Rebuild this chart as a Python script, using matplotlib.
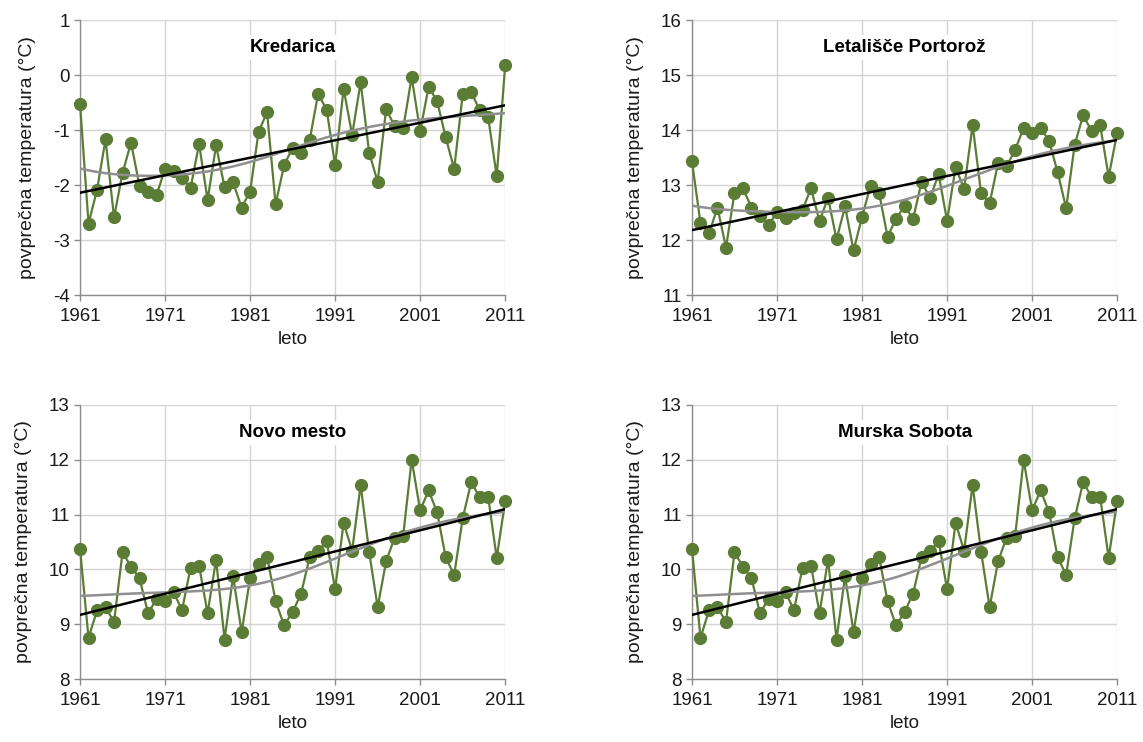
import matplotlib.pyplot as plt
import numpy as np

plt.rcParams['font.family'] = ['Liberation Sans', 'DejaVu Sans']
plt.rcParams['axes.unicode_minus'] = False

years = np.arange(1961, 2012)

kredarica = [-0.52, -2.70, -2.09, -1.17, -2.59, -1.78, -1.23, -2.02, -2.12, -2.18,
             -1.71, -1.74, -1.87, -2.06, -1.25, -2.27, -1.28, -2.04, -1.95, -2.41,
             -2.12, -1.03, -0.68, -2.35, -1.64, -1.32, -1.42, -1.19, -0.34, -0.63,
             -1.64, -0.25, -1.09, -0.13, -1.41, -1.94, -0.62, -0.93, -0.97, -0.04,
             -1.02, -0.21, -0.48, -1.13, -1.71, -0.35, -0.31, -0.64, -0.77, -1.84,
             0.18]

portoroz = [13.43, 12.31, 12.12, 12.59, 11.86, 12.86, 12.94, 12.59, 12.43, 12.27,
            12.51, 12.40, 12.49, 12.55, 12.94, 12.34, 12.77, 12.01, 12.61, 11.81,
            12.42, 12.99, 12.86, 12.06, 12.39, 12.62, 12.38, 13.06, 12.76, 13.20,
            12.35, 13.32, 12.93, 14.09, 12.85, 12.67, 13.40, 13.34, 13.64, 14.04,
            13.95, 14.04, 13.80, 13.23, 12.58, 13.73, 14.27, 13.98, 14.09, 13.15,
            13.95]

novo_mesto = [10.38, 8.75, 9.25, 9.31, 9.04, 10.31, 10.05, 9.84, 9.20, 9.46,
              9.42, 9.58, 9.26, 10.03, 10.07, 9.20, 10.18, 8.72, 9.88, 8.85,
              9.84, 10.10, 10.23, 9.42, 8.98, 9.22, 9.56, 10.22, 10.33, 10.52,
              9.64, 10.85, 10.34, 11.54, 10.32, 9.31, 10.15, 10.58, 10.61, 12.00,
              11.08, 11.44, 11.04, 10.22, 9.90, 10.93, 11.59, 11.32, 11.32, 10.21,
              11.25]

murska_sobota = list(novo_mesto)

# linear trend values at 1961 and 2011
trend_start = [-2.14, 12.18, 9.17, 9.17]
trend_end = [-0.55, 13.82, 11.10, 11.10]

stations = ['Kredarica', 'Letališče Portorož', 'Novo mesto', 'Murska Sobota']
series = [kredarica, portoroz, novo_mesto, murska_sobota]
y_ranges = [(-4, 1), (11, 16), (8, 13), (8, 13)]

GREEN = '#5b7c35'
GRID = '#d4d4d4'
SPINE = '#8c8c8c'
TEXT = '#1a1a1a'


def local_linear_smooth(x, y, sigma=7.0):
    # gaussian weighted local linear regression
    x = np.asarray(x, float)
    y = np.asarray(y, float)
    out = np.empty_like(y)
    for i, xi in enumerate(x):
        w = np.exp(-0.5 * ((x - xi) / sigma) ** 2)
        d = x - xi
        sw, swd, swdd = w.sum(), (w * d).sum(), (w * d * d).sum()
        swy, swdy = (w * y).sum(), (w * d * y).sum()
        det = sw * swdd - swd ** 2
        out[i] = (swdd * swy - swd * swdy) / det
    return out


fig = plt.figure(figsize=(11.43, 7.42), dpi=100)
positions = [
    [0.070, 0.6024, 0.372, 0.3706],
    [0.6054, 0.6024, 0.372, 0.3706],
    [0.070, 0.0849, 0.372, 0.3693],
    [0.6054, 0.0849, 0.372, 0.3693],
]

for k, (pos, name, vals, (ylo, yhi)) in enumerate(zip(positions, stations, series, y_ranges)):
    ax = fig.add_axes(pos)
    vals = np.array(vals)

    trend = [trend_start[k], trend_end[k]]
    smooth = local_linear_smooth(years, vals, sigma=7.0)

    ax.plot(years, vals, color=GREEN, lw=1.6, marker='o', ms=8.5,
            markeredgecolor=GREEN, zorder=3, clip_on=False)
    ax.plot(years, smooth, color='#8f8f8f', lw=1.8, zorder=4)
    ax.plot([years[0], years[-1]], trend, color='black', lw=1.8, zorder=5)

    ax.set_xlim(1961, 2011)
    ax.set_ylim(ylo, yhi)
    ax.set_xticks(np.arange(1961, 2012, 10))
    ax.set_yticks(np.arange(ylo, yhi + 1, 1))
    ax.grid(True, color=GRID, lw=1.0, zorder=0)
    ax.set_axisbelow(True)

    for s in ['top', 'right']:
        ax.spines[s].set_visible(False)
    for s in ['left', 'bottom']:
        ax.spines[s].set_color(SPINE)
        ax.spines[s].set_linewidth(1.0)
    ax.tick_params(axis='both', colors=SPINE, labelcolor=TEXT,
                   labelsize=13.5, length=4, width=1.0, direction='out')
    ax.tick_params(axis='x', pad=5)

    ax.set_xlabel('leto', fontsize=13.5, color=TEXT, labelpad=5)
    ax.set_ylabel('povprečna temperatura (°C)', fontsize=14, color=TEXT, labelpad=12)

    ax.text(0.5, 0.90, name, transform=ax.transAxes, ha='center', va='center',
            fontsize=13.5, fontweight='bold', color='black', zorder=6,
            bbox=dict(facecolor='white', edgecolor='none', pad=3))

fig.savefig('out.png', dpi=100)
